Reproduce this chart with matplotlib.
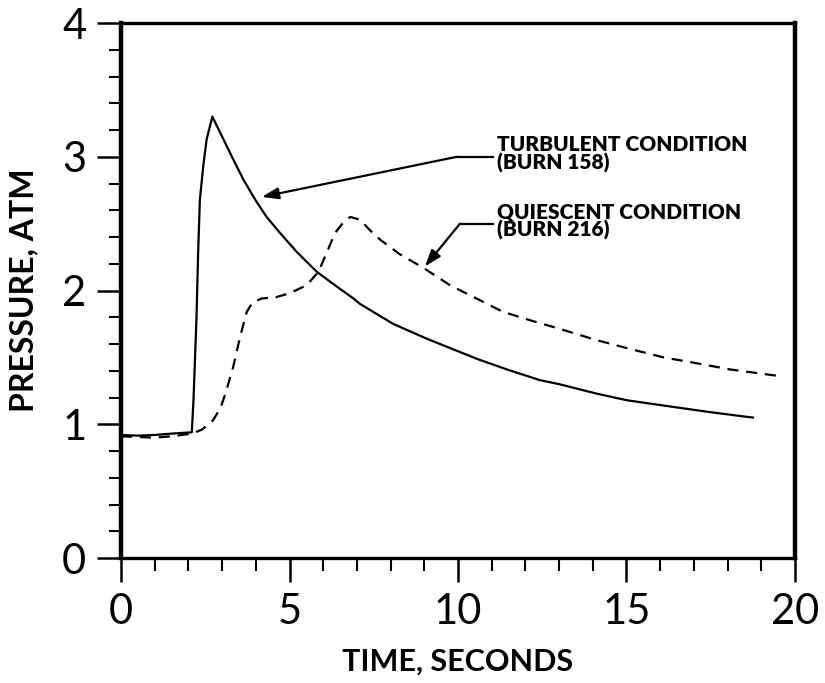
import matplotlib
matplotlib.use("Agg")
import matplotlib.pyplot as plt
from matplotlib.ticker import MultipleLocator

# Turbulent condition (burn 158)
turb_t = [0.0, 0.5, 1.0, 1.5, 2.10, 2.15, 2.24, 2.29, 2.34, 2.44, 2.54, 2.71,
          3.04, 3.33, 3.63, 3.98, 4.32, 4.72, 5.21, 5.81, 6.40, 6.90, 7.09,
          8.08, 9.07, 10.06, 10.55, 11.45, 12.43, 13.0, 14.1, 15.0, 16.1,
          17.5, 18.75]
turb_p = [0.92, 0.915, 0.92, 0.93, 0.94, 1.18, 1.80, 2.30, 2.68, 2.93, 3.13, 3.30,
          3.13, 2.98, 2.83, 2.68, 2.55, 2.43, 2.29, 2.14, 2.03, 1.94, 1.90,
          1.75, 1.64, 1.54, 1.49, 1.41, 1.33, 1.30, 1.23, 1.18, 1.14,
          1.09, 1.05]

# Quiescent condition (burn 216)
quie_t = [0.0, 0.5, 1.0, 1.5, 2.1, 2.4, 2.73, 2.95, 3.1, 3.33, 3.53, 3.73, 3.9,
          4.17, 4.6, 5.01, 5.51, 5.86, 6.10, 6.35, 6.60, 6.80, 7.09, 7.39,
          7.69, 8.28, 8.97, 9.76, 10.55, 11.34, 12.24, 12.93, 14.1, 15.0,
          16.1, 17.0, 18.07, 19.55]
quie_p = [0.91, 0.905, 0.90, 0.91, 0.93, 0.96, 1.03, 1.12, 1.23, 1.43, 1.65, 1.84, 1.91,
          1.94, 1.95, 1.98, 2.04, 2.14, 2.28, 2.43, 2.51, 2.55, 2.53, 2.45,
          2.38, 2.27, 2.17, 2.04, 1.94, 1.84, 1.77, 1.72, 1.63, 1.57,
          1.50, 1.46, 1.41, 1.36]

x_ticks = [0, 5, 10, 15, 20]
y_ticks = [0, 1, 2, 3, 4]

FONT = "Lato"

fig = plt.figure(figsize=(8.25, 6.83), dpi=100)
ax = fig.add_axes([0.1467, 0.183, 0.8169, 0.7833])

ax.plot(turb_t, turb_p, color="black", lw=1.6, solid_joinstyle="round")
ax.plot(quie_t, quie_p, color="black", lw=1.6, dashes=(5, 3.5))

ax.set_xlim(0, 20)
ax.set_ylim(0, 4)
ax.set_xticks(x_ticks)
ax.set_yticks(y_ticks)
ax.xaxis.set_minor_locator(MultipleLocator(1))
ax.yaxis.set_minor_locator(MultipleLocator(0.2))

ax.tick_params(which="major", direction="out", length=17, width=1.8,
               labelsize=30, pad=8)
ax.tick_params(which="minor", direction="out", length=9, width=1.5)
for lab in ax.get_xticklabels() + ax.get_yticklabels():
    lab.set_family(FONT)

for side in ("left", "right"):
    ax.spines[side].set_linewidth(3.2)
for side in ("top", "bottom"):
    ax.spines[side].set_linewidth(2.4)

ax.set_xlabel("TIME, SECONDS", fontsize=22, family=FONT, fontweight="bold",
              labelpad=12)
ax.set_ylabel("PRESSURE, ATM", fontsize=23, family=FONT, fontweight="bold",
              labelpad=17)

# Leader lines with arrows
ax.plot([9.97, 11.04], [3.0, 3.0], color="black", lw=1.6)
ax.annotate("", xy=(4.18, 2.70), xytext=(9.97, 3.0),
            arrowprops=dict(arrowstyle="-|>,head_length=1.0,head_width=0.35",
                            color="black", lw=1.6, shrinkA=0, shrinkB=0))
ax.plot([10.06, 11.04], [2.50, 2.50], color="black", lw=1.6)
ax.annotate("", xy=(9.02, 2.18), xytext=(10.06, 2.50),
            arrowprops=dict(arrowstyle="-|>,head_length=1.0,head_width=0.35",
                            color="black", lw=1.6, shrinkA=0, shrinkB=0))

ax.text(11.16, 3.02, "TURBULENT CONDITION\n(BURN 158)", fontsize=15,
        family=FONT, fontweight="heavy", va="center", ha="left",
        linespacing=0.92)
ax.text(11.16, 2.52, "QUIESCENT CONDITION\n(BURN 216)", fontsize=15,
        family=FONT, fontweight="heavy", va="center", ha="left",
        linespacing=0.92)

fig.savefig("out.png", dpi=100)
